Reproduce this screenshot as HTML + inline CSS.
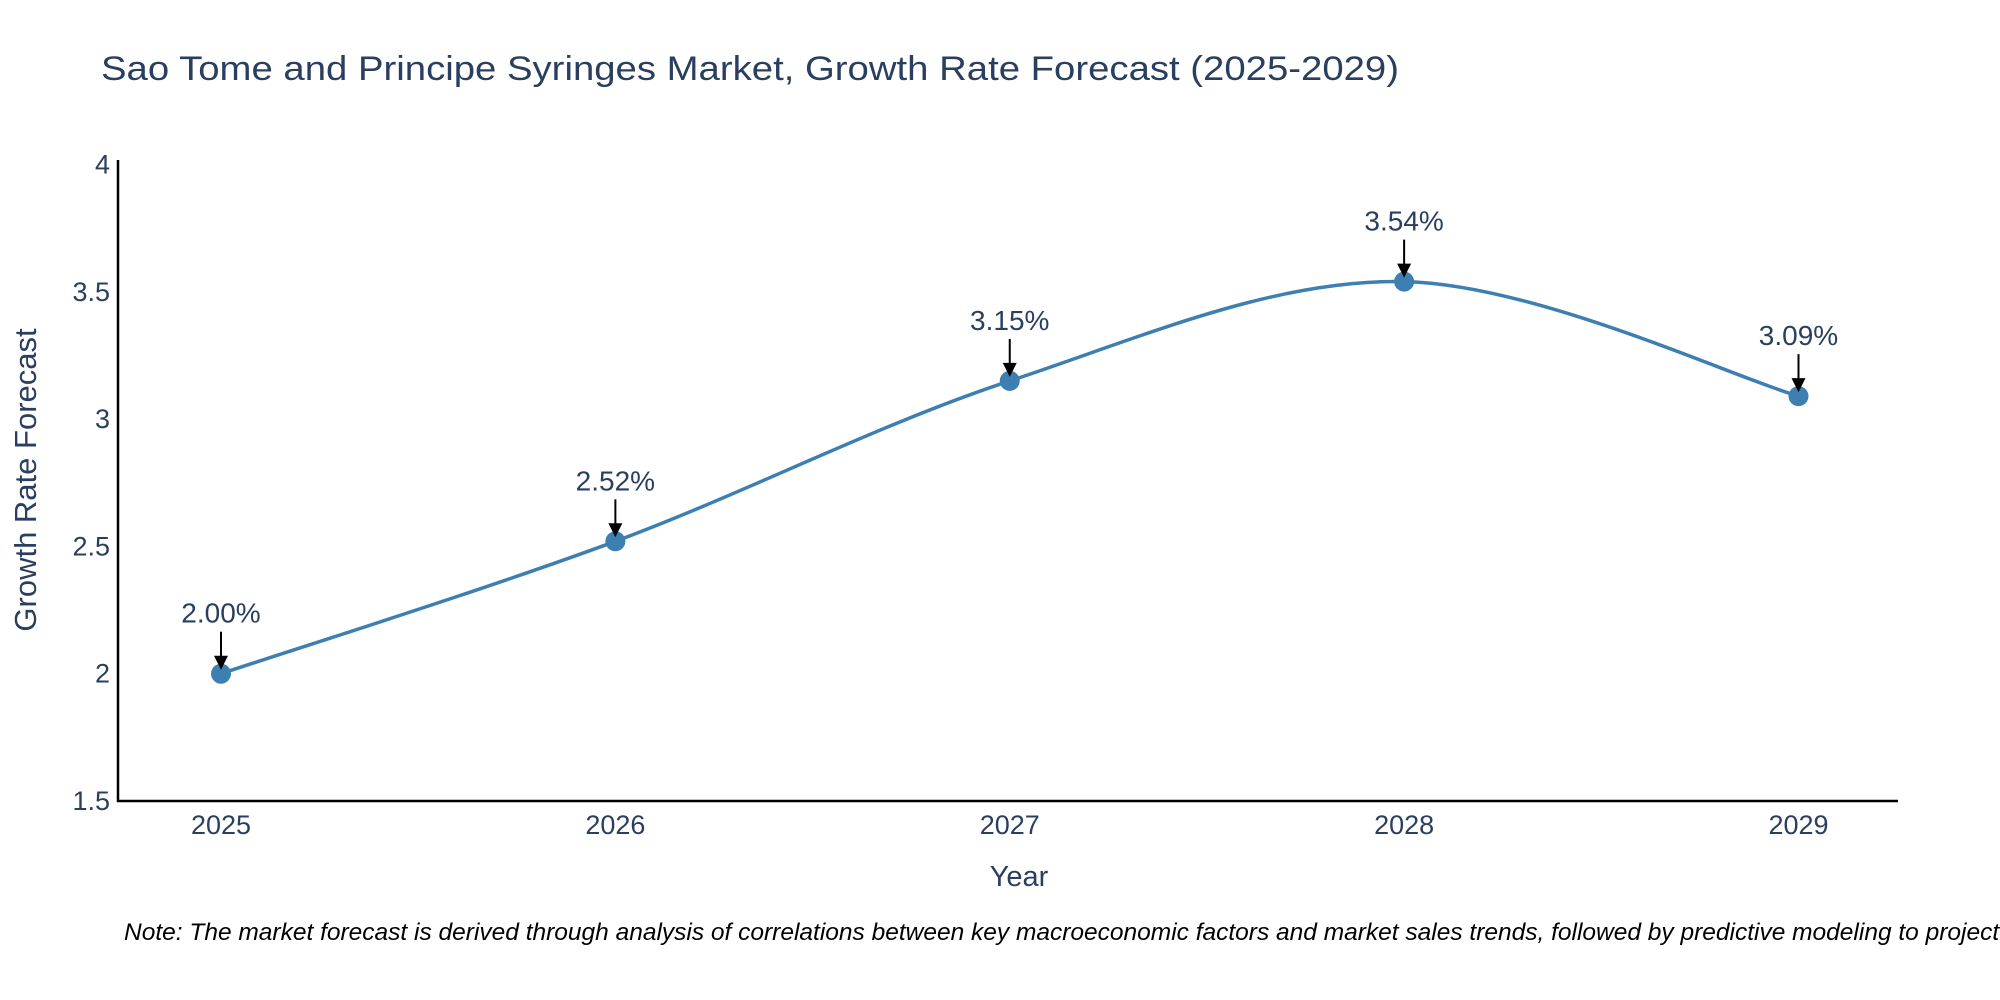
<!DOCTYPE html>
<html><head><meta charset="utf-8"><style>
html,body{margin:0;padding:0;background:#fff;overflow:hidden;}
svg{display:block;font-family:"Liberation Sans",sans-serif;}
</style></head><body>
<svg id="chart" width="2000" height="1000" viewBox="0 0 2000 1000" xmlns="http://www.w3.org/2000/svg">
<rect width="2000" height="1000" fill="#fff"/>
<text x="101" y="80" font-size="34" fill="#2a3f5f" textLength="1298" lengthAdjust="spacingAndGlyphs">Sao Tome and Principe Syringes Market, Growth Rate Forecast (2025-2029)</text>
<g id="yticks"></g><g id="xticks"></g>
<line x1="118" y1="160" x2="118" y2="802" stroke="#000" stroke-width="2.5"/>
<line x1="117" y1="801" x2="1898" y2="801" stroke="#000" stroke-width="2.5"/>
<text transform="translate(36,480) rotate(-90)" text-anchor="middle" font-size="31" fill="#2a3f5f">Growth Rate Forecast</text>
<text x="1019" y="886" text-anchor="middle" font-size="29" fill="#2a3f5f">Year</text>
<g id="series"></g>
<text x="124" y="940" font-size="24.5" font-style="italic" fill="#000">Note: The market forecast is derived through analysis of correlations between key macroeconomic factors and market sales trends, followed by predictive modeling to project future sales.</text>
</svg>
<script>
const years = [2025, 2026, 2027, 2028, 2029];
const growth = [2.00, 2.52, 3.15, 3.54, 3.09];
const labels = ["2.00%", "2.52%", "3.15%", "3.54%", "3.09%"];
const yTickValues = [1.5, 2, 2.5, 3, 3.5, 4];
const yTickLabels = ["1.5", "2", "2.5", "3", "3.5", "4"];

const NS = "http://www.w3.org/2000/svg";
function xS(v){ return 221 + (v - 2025) * (1798.5 - 221) / 4; }
function yS(v){ return 801 - (v - 1.5) * (801 - 164.5) / 2.5; }
function mk(tag, attrs, parent){ const e = document.createElementNS(NS, tag); for (const k in attrs) e.setAttribute(k, attrs[k]); parent.appendChild(e); return e; }

const yt = document.getElementById('yticks');
yTickValues.forEach((v, i) => {
  const t = mk('text', {x: 110, y: yS(v) + 9, 'text-anchor': 'end', 'font-size': 27, fill: '#2a3f5f'}, yt);
  
  
  t.textContent = yTickLabels[i];
});
const xt = document.getElementById('xticks');
years.forEach(v => {
  const t = mk('text', {x: xS(v), y: 834, 'text-anchor': 'middle', 'font-size': 27, fill: '#2a3f5f'}, xt);
  
  
  t.textContent = String(v);
});

const g = document.getElementById('series');
const pts = years.map((y, i) => [xS(y), yS(growth[i])]);
let d = 'M' + pts[0][0] + ',' + pts[0][1];
const s = 1/6;
for (let i = 0; i < pts.length - 1; i++) {
  const p0 = pts[Math.max(0, i-1)], p1 = pts[i], p2 = pts[i+1], p3 = pts[Math.min(pts.length-1, i+2)];
  const c1 = [p1[0] + (p2[0]-p0[0])*s, p1[1] + (p2[1]-p0[1])*s];
  const c2 = [p2[0] - (p3[0]-p1[0])*s, p2[1] - (p3[1]-p1[1])*s];
  d += ' C' + c1.join(',') + ' ' + c2.join(',') + ' ' + p2.join(',');
}
const line = mk('path', {d: d, fill: 'none', stroke: '#3d7fb0', 'stroke-width': 3.5}, g);



pts.forEach((p, i) => {
  const c = mk('circle', {cx: p[0], cy: p[1], r: 10, fill: '#3d7fb0'}, g);
  
  
  const a = mk('line', {x1: p[0], y1: p[1] - 42, x2: p[0], y2: p[1] - 16, stroke: '#000', 'stroke-width': 2}, g);
  
  
  const h = mk('polygon', {points: (p[0]-7)+','+(p[1]-18)+' '+(p[0]+7)+','+(p[1]-18)+' '+p[0]+','+(p[1]-4), fill: '#000'}, g);
  
  
  const t = mk('text', {x: p[0], y: p[1] - 51, 'text-anchor': 'middle', 'font-size': 28, fill: '#2a3f5f'}, g);
  
  
  t.textContent = labels[i];
});
</script>
</body></html>
